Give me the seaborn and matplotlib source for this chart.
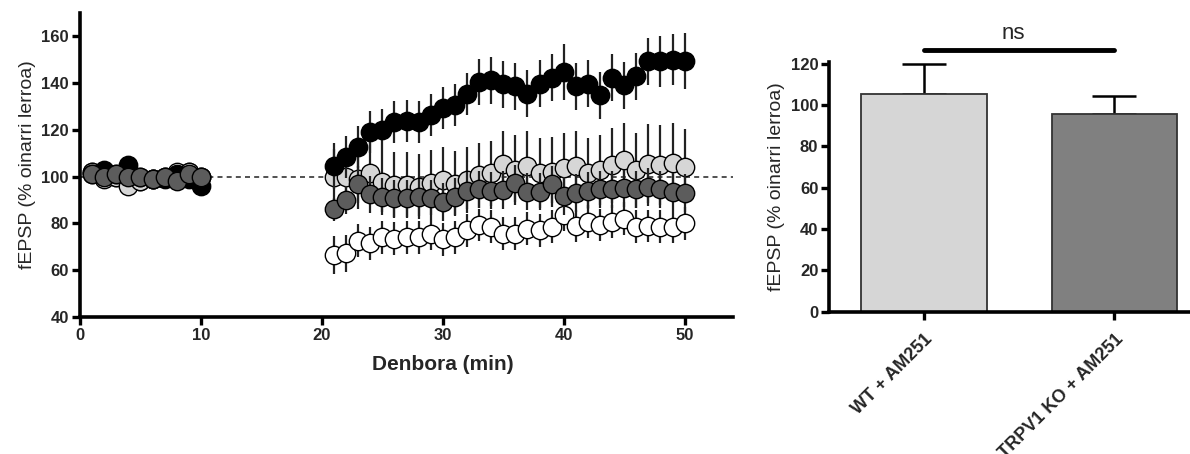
import numpy as np
import pandas as pd
import matplotlib
matplotlib.use("Agg")
import matplotlib.pyplot as plt
import seaborn as sns

# ---------------- data ----------------
t_base = [1, 2, 3, 4, 5, 6, 7, 8, 9, 10]
t_post = list(range(21, 51))

black_base = [101, 103, 101, 105, 100, 99, 99, 101, 99, 96]
black_post = [104.6, 108.4, 112.7, 119.1, 119.8, 123.4, 123.9, 123.4, 126.5, 129.5,
              130.5, 135.2, 140.5, 141.2, 139.5, 138.6, 135.5, 139.8, 142.3, 144.8,
              138.6, 139.8, 134.8, 142.3, 139.1, 142.9, 149.3, 149.3, 150.0, 149.3]
black_err_base = [2, 2, 2, 3, 2, 2, 2, 2, 2, 3]
black_err_post = [10, 9, 9, 9, 9, 9, 9, 9, 9, 9,
                  9, 9, 10, 10, 10, 10, 10, 10, 10, 12,
                  10, 10, 10, 10, 10, 10, 10, 11, 11, 12]

lgray_base = [102, 99, 100, 96, 98, 99, 100, 99, 102, 100]
lgray_post = [99.9, 100.0, 99.0, 101.4, 97.8, 96.4, 96.4, 95.7, 97.4, 98.5,
              97.0, 98.5, 100.6, 101.4, 105.6, 102.8, 104.5, 101.4, 102.0, 103.5,
              104.5, 101.4, 102.8, 104.9, 107.0, 102.8, 105.6, 104.9, 106.0, 104.2]
lgray_err_base = [2, 2, 2, 3, 2, 2, 2, 2, 2, 2]
lgray_err_post = [12, 12, 13, 13, 13, 14, 14, 14, 14, 14,
                  14, 14, 14, 14, 14, 15, 15, 15, 15, 15,
                  15, 15, 15, 16, 16, 16, 17, 17, 17, 16]

dgray_base = [101, 100, 101, 100, 100, 99, 100, 98, 101, 100]
dgray_post = [86.0, 90.0, 96.7, 92.4, 91.4, 90.7, 90.7, 91.2, 90.7, 89.2,
              91.4, 94.0, 94.6, 94.0, 94.3, 97.1, 93.6, 93.6, 96.7, 91.7,
              93.0, 94.0, 94.6, 94.6, 95.0, 94.6, 95.5, 94.6, 93.6, 93.0]
dgray_err_base = [2, 2, 2, 2, 2, 2, 2, 2, 2, 2]
dgray_err_post = [5, 6, 8, 8, 8, 8, 8, 8, 8, 8,
                  8, 8, 8, 8, 8, 8, 8, 8, 8, 8,
                  8, 8, 8, 8, 8, 8, 8, 8, 8, 8]

white_base = [102, 101, 100, 99, 98, 99, 100, 102, 102, 100]
white_post = [66.5, 67.2, 72.6, 71.5, 74.0, 73.5, 74.0, 74.0, 75.7, 73.2,
              74.0, 77.1, 79.3, 78.6, 75.7, 75.7, 77.8, 77.1, 78.6, 83.6,
              78.9, 80.7, 79.3, 80.7, 82.1, 78.6, 78.9, 78.6, 78.6, 80.0]
white_err_base = [2, 2, 2, 2, 2, 2, 2, 2, 2, 2]
white_err_post = [8, 8, 7, 7, 7, 7, 7, 7, 7, 7,
                  7, 7, 7, 7, 7, 7, 7, 7, 7, 7,
                  7, 7, 7, 7, 7, 7, 7, 7, 7, 7]

bar_labels = ["WT + AM251", "TRPV1 KO + AM251"]
bar_values = [105.5, 95.4]
bar_errors = [14.5, 8.8]

xticks_left = [0, 10, 20, 30, 40, 50]
yticks_left = [40, 60, 80, 100, 120, 140, 160]
yticks_right = [0, 20, 40, 60, 80, 100, 120]

# ---------------- style ----------------
sns.set_style("ticks")
plt.rcParams['font.family'] = ['Liberation Sans', 'DejaVu Sans']

fig = plt.figure(figsize=(11.9, 4.54), dpi=100)
ax1 = fig.add_axes([0.0672, 0.3018, 0.5488, 0.6696])
ax2 = fig.add_axes([0.697, 0.3134, 0.31, 0.551])

# ---------------- left panel ----------------
series = [
    ("white", white_base, white_post, white_err_base, white_err_post, "white", 3),
    ("lgray", lgray_base, lgray_post, lgray_err_base, lgray_err_post, "#d6d6d6", 4),
    ("black", black_base, black_post, black_err_base, black_err_post, "black", 5),
    ("dgray", dgray_base, dgray_post, dgray_err_base, dgray_err_post, "#5c5c5c", 6),
]

ax1.axhline(100, color="#333333", lw=1.2, ls=(0, (3, 2.5)), zorder=1)

for name, yb, yp, eb, ep, col, z in series:
    df = pd.DataFrame({"t": t_base + t_post, "v": yb + yp, "e": eb + ep})
    ax1.errorbar(df["t"], df["v"], yerr=df["e"], fmt="none", ecolor="#222222",
                 elinewidth=1.6, capsize=0, zorder=z - 0.5)
    sns.scatterplot(data=df, x="t", y="v", ax=ax1, s=175, color=col,
                    edgecolor="black", linewidth=1.0, zorder=z, legend=False)

ax1.set_xlim(0, 54)
ax1.set_ylim(40, 170)
ax1.set_xticks(xticks_left)
ax1.set_yticks(yticks_left)
ax1.set_xlabel("Denbora (min)", fontsize=15, fontweight="bold")
ax1.xaxis.set_label_coords(0.556, -0.125)
ax1.set_ylabel("fEPSP (% oinarri lerroa)", fontsize=14, labelpad=4)

# ---------------- right panel ----------------
bdf = pd.DataFrame({"group": bar_labels, "value": bar_values})
sns.barplot(data=bdf, x="group", y="value", hue="group",
            palette=["#d6d6d6", "#808080"], ax=ax2, width=0.66,
            edgecolor="#333333", linewidth=1.3, errorbar=None, legend=False, zorder=2)
ax2.errorbar([0, 1], bar_values, yerr=[[0, 0], bar_errors], fmt="none",
             ecolor="black", elinewidth=1.8, capsize=16, capthick=1.8, zorder=1)
ax2.plot([0, 1], [126.8, 126.8], color="black", lw=3.5, solid_capstyle="round",
         clip_on=False)
ax2.text(0.47, 129.3, "ns", ha="center", va="bottom", fontsize=16, clip_on=False)

ax2.set_xlim(-0.495, 1.44)
ax2.set_ylim(0, 121)
ax2.set_yticks(yticks_right)
ax2.set_xlabel("")
ax2.set_ylabel("fEPSP (% oinarri lerroa)", fontsize=14, labelpad=4)
ax2.set_xticks([0, 1])
ax2.set_xticklabels(bar_labels, rotation=45, ha="right", rotation_mode="anchor",
                    fontsize=13, fontweight="bold")

for ax in (ax1, ax2):
    sns.despine(ax=ax)
    for sp in ("left", "bottom"):
        ax.spines[sp].set_linewidth(2.6)
        ax.spines[sp].set_color("black")
    ax.tick_params(axis="both", width=2.4, length=6, color="black", pad=2)
    ax.tick_params(axis="y", labelsize=12)
    for lab in ax.get_yticklabels():
        lab.set_fontweight("bold")
ax1.tick_params(axis="x", labelsize=12)
for lab in ax1.get_xticklabels():
    lab.set_fontweight("bold")
ax2.tick_params(axis="x", pad=8)

fig.savefig("out.png", dpi=100)
